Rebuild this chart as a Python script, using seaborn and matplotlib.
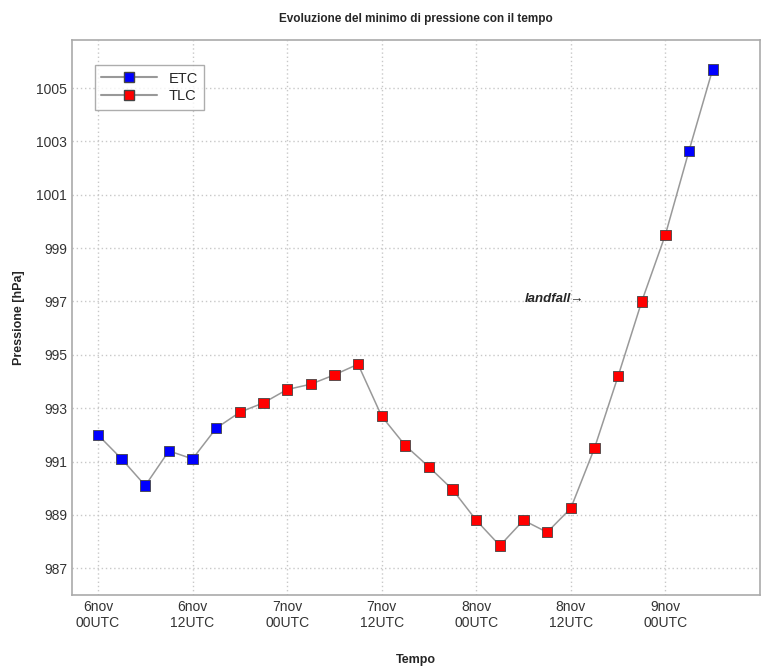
import pandas as pd
import matplotlib.pyplot as plt
import seaborn as sns
from matplotlib.lines import Line2D

# Hours since 6nov 00UTC, one value every 3 hours
ore = [0, 3, 6, 9, 12, 15, 18, 21, 24, 27, 30, 33, 36, 39, 42, 45, 48, 51,
       54, 57, 60, 63, 66, 69, 72, 75, 78]
pressione = [992.0, 991.1, 990.1, 991.4, 991.1, 992.25, 992.85, 993.2, 993.7,
             993.9, 994.25, 994.65, 992.7, 991.6, 990.8, 989.95, 988.8, 987.85,
             988.8, 988.35, 989.25, 991.5, 994.2, 997.0, 999.5, 1002.65, 1005.7]
tipo = ['ETC'] * 6 + ['TLC'] * 19 + ['ETC'] * 2

xtick_pos = [0, 12, 24, 36, 48, 60, 72]
xtick_lab = ['6nov\n00UTC', '6nov\n12UTC', '7nov\n00UTC', '7nov\n12UTC',
             '8nov\n00UTC', '8nov\n12UTC', '9nov\n00UTC']
ytick_pos = [987, 989, 991, 993, 995, 997, 999, 1001, 1003, 1005]

df = pd.DataFrame({'ore': ore, 'pressione': pressione, 'tipo': tipo})

sns.set_style('white')
plt.rcParams['font.family'] = ['Liberation Sans', 'DejaVu Sans']

fig = plt.figure(figsize=(7.73, 6.68), dpi=100)
ax = fig.add_axes([0.0931, 0.1093, 0.8900, 0.8308])

# grey line joining all points, then coloured square markers
sns.lineplot(x='ore', y='pressione', data=df, color='#999999', linewidth=1.1,
             ax=ax, zorder=2)
sns.scatterplot(x='ore', y='pressione', hue='tipo', data=df,
                palette={'ETC': '#0000ff', 'TLC': '#ff0000'}, marker='s',
                s=55, edgecolor='#444444', linewidth=0.6, ax=ax, zorder=3,
                legend=False)

ax.set_xlim(-3.3, 84)
ax.set_ylim(986.0, 1006.8)
ax.set_xticks(xtick_pos)
ax.set_xticklabels(xtick_lab)
ax.set_yticks(ytick_pos)
ax.tick_params(direction='in', length=4, color='#999999', labelsize=10,
               labelcolor='#333333')
ax.grid(True, linestyle=(0, (1, 2)), color='#c8c8c8', linewidth=1)
for sp in ax.spines.values():
    sp.set_color('#aaaaaa')
    sp.set_linewidth(1.2)

ax.set_title('Evoluzione del minimo di pressione con il tempo', fontsize=8.5,
             fontweight='bold', pad=13)
ax.set_xlabel('Tempo', fontsize=9, fontweight='bold', labelpad=17)
ax.set_ylabel('Pressione [hPa]', fontsize=9, fontweight='bold', labelpad=8)

ax.text(54.2, 997.1, 'landfall\u2192', fontsize=9.5, fontweight='bold',
        fontstyle='italic', va='center', ha='left')

handles = [Line2D([], [], color='#999999', marker='s', markersize=7,
                  markerfacecolor='#0000ff', markeredgecolor='#444444'),
           Line2D([], [], color='#999999', marker='s', markersize=7,
                  markerfacecolor='#ff0000', markeredgecolor='#444444')]
leg = ax.legend(handles, ['ETC', 'TLC'], loc='upper left',
                bbox_to_anchor=(0.033, 0.955), borderaxespad=0,
                fancybox=False, fontsize=10.5, handlelength=3.8,
                labelspacing=0.25, borderpad=0.45)
leg.get_frame().set_edgecolor('#999999')

plt.savefig('out.png', dpi=100)
